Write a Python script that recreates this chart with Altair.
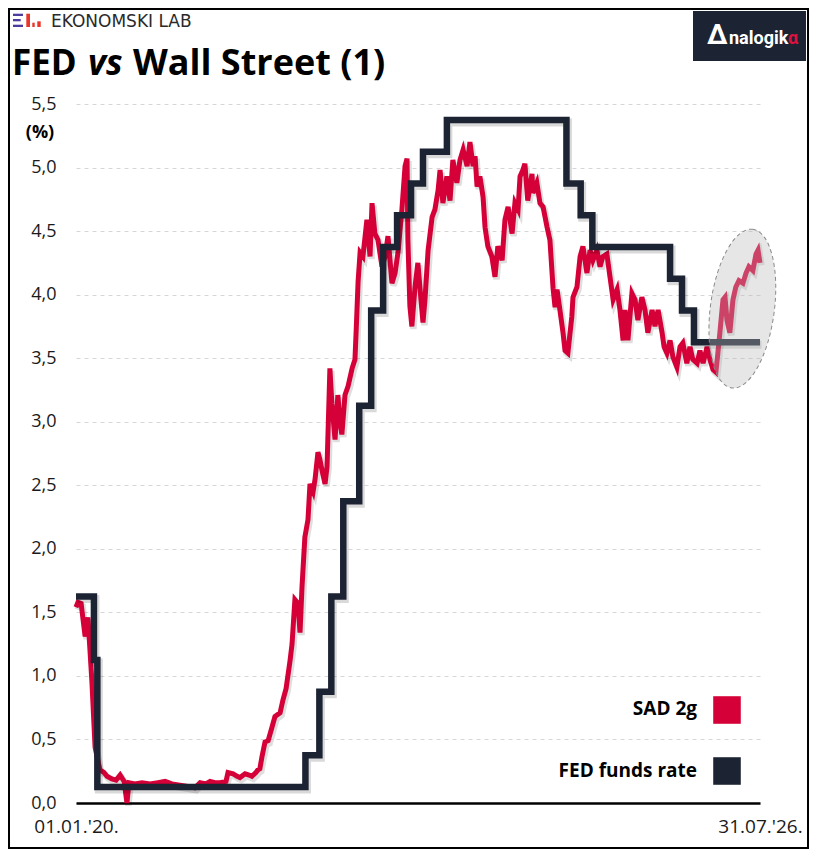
import pandas as pd
import altair as alt

START = alt.DateTime(year=2020, month=1, date=1)
END = alt.DateTime(year=2026, month=7, date=31)

series_names = ["SAD 2g", "FED funds rate"]
series_colors = ["#D50037", "#1C2333"]

# FED funds rate, midpoint of the target range (%), a new level from each date on
fed_dates = ["2020-01-01", "2020-03-04", "2020-03-16", "2022-03-17", "2022-05-05",
             "2022-06-16", "2022-07-28", "2022-09-22", "2022-11-03", "2022-12-15",
             "2023-02-02", "2023-03-23", "2023-05-04", "2023-07-27", "2024-09-19",
             "2024-11-08", "2024-12-19", "2025-09-18", "2025-10-30", "2025-12-11",
             "2026-07-31"]
fed_rate = [1.625, 1.125, 0.125, 0.375, 0.875, 1.625, 2.375, 3.125, 3.875, 4.375,
            4.625, 4.875, 5.125, 5.375, 4.875, 4.625, 4.375, 4.125, 3.875, 3.625,
            3.625]

# US 2y yield (%); days counted from 01.01.2020
sad_days = [0, 7, 18, 32, 42, 56, 67, 84, 98, 109, 126, 141, 155, 169, 179, 186,
            207, 232, 260, 288, 313, 337, 365, 393, 418, 436, 457, 471, 488, 506,
            527, 534, 552, 566, 576, 594, 608, 618, 632, 639, 646, 653, 664, 675,
            689, 699, 717, 727, 738, 752, 759, 769, 780, 787, 794, 804, 815, 822,
            833, 840, 850, 857, 864, 875, 882, 892, 899, 910, 920, 927, 934, 945,
            956, 970, 980, 984, 991, 998, 1008, 1022, 1033, 1040, 1050, 1061, 1075,
            1086, 1096, 1110, 1121, 1131, 1145, 1156, 1163, 1166, 1173, 1180, 1191,
            1201, 1212, 1219, 1226, 1237, 1251, 1261, 1272, 1279, 1289, 1303, 1314,
            1324, 1338, 1349, 1360, 1374, 1384, 1395, 1402, 1409, 1419, 1430, 1437,
            1447, 1461, 1472, 1482, 1497, 1507, 1518, 1532, 1542, 1553, 1560, 1570,
            1577, 1587, 1602, 1605, 1619, 1630, 1641, 1655, 1665, 1676, 1683, 1690,
            1700, 1711, 1718, 1728, 1742, 1746, 1760, 1771, 1781, 1795, 1806, 1816,
            1830, 1841, 1851, 1865, 1876, 1887, 1901, 1911, 1922, 1929, 1939, 1953,
            1964, 1974, 1988, 1999, 2009, 2024, 2034, 2045, 2059, 2066, 2076, 2087,
            2097, 2111, 2122, 2132, 2146, 2157, 2167, 2182, 2192, 2203, 2217, 2227,
            2238, 2248, 2255, 2262, 2273, 2280, 2287, 2297, 2308, 2318, 2329, 2343,
            2354, 2364, 2378, 2389, 2396, 2403]
sad_yield = [1.54, 1.58, 1.57, 1.31, 1.46, 0.95, 0.44, 0.26, 0.24, 0.21, 0.19, 0.18,
             0.22, 0.17, 0.00, 0.16, 0.15, 0.16, 0.15, 0.16, 0.17, 0.15, 0.14, 0.13,
             0.12, 0.16, 0.15, 0.17, 0.16, 0.16, 0.17, 0.24, 0.23, 0.21, 0.20, 0.23,
             0.22, 0.21, 0.24, 0.26, 0.27, 0.36, 0.48, 0.49, 0.60, 0.68, 0.71, 0.81,
             0.90, 1.12, 1.25, 1.60, 1.57, 1.34, 1.70, 2.09, 2.23, 2.51, 2.45, 2.55,
             2.76, 2.70, 2.62, 2.51, 2.65, 3.42, 3.14, 2.86, 3.21, 3.00, 2.90, 3.21,
             3.28, 3.42, 3.49, 3.70, 4.10, 4.33, 4.30, 4.59, 4.30, 4.72, 4.48, 4.43,
             4.22, 4.30, 4.46, 4.09, 4.17, 4.33, 4.67, 5.01, 5.07, 4.43, 3.91, 3.75,
             4.06, 4.25, 3.96, 3.78, 3.96, 4.35, 4.61, 4.67, 4.82, 4.98, 4.72, 4.93,
             4.74, 5.06, 4.88, 5.06, 5.14, 5.01, 5.20, 5.01, 5.09, 4.85, 4.93, 4.77,
             4.53, 4.38, 4.30, 4.14, 4.38, 4.27, 4.59, 4.69, 4.48, 4.72, 4.67, 4.93,
             4.98, 5.03, 4.74, 4.95, 4.80, 4.88, 4.72, 4.69, 4.53, 4.43, 4.05, 3.90,
             4.04, 3.88, 3.70, 3.56, 3.54, 3.83, 3.98, 4.06, 4.30, 4.38, 4.17, 4.35,
             4.27, 4.35, 4.22, 4.30, 4.32, 4.14, 3.96, 4.04, 3.88, 3.64, 3.88, 3.64,
             4.01, 3.96, 3.80, 3.98, 3.88, 3.70, 3.88, 3.75, 3.88, 3.70, 3.59, 3.54,
             3.64, 3.51, 3.43, 3.59, 3.62, 3.46, 3.59, 3.49, 3.46, 3.56, 3.46, 3.59,
             3.49, 3.41, 3.39, 3.54, 3.70, 3.96, 3.98, 3.80, 3.70, 3.96, 4.06, 4.11,
             4.09, 4.17, 4.22, 4.19, 4.32, 4.35, 4.25]

# grey highlight around the last months
highlight_days = [2341]
highlight_value = [3.89]

y_ticks = [0.0, 0.5, 1.0, 1.5, 2.0, 2.5, 3.0, 3.5, 4.0, 4.5, 5.0, 5.5]

start_ts = pd.Timestamp("2020-01-01")
sad = pd.DataFrame({"date": start_ts + pd.to_timedelta(sad_days, unit="D"),
                    "value": sad_yield, "series": series_names[0]})
fed = pd.DataFrame({"date": pd.to_datetime(fed_dates), "value": fed_rate,
                    "series": series_names[1]})
spot = pd.DataFrame({"date": start_ts + pd.to_timedelta(highlight_days, unit="D"),
                     "value": highlight_value})
one = pd.DataFrame({"k": [0]})

FONT = "Open Sans"

x_enc = alt.X("date:T", scale=alt.Scale(domain=[START, END]),
              axis=alt.Axis(values=[START, END], format="%d.%m.'%y.", title=None,
                            grid=False, ticks=False, domainColor="black",
                            domainWidth=2.5, labelFontSize=19, labelPadding=14,
                            labelOverlap=False, labelFlush=False,
                            labelColor="#1a1a1a", labelFont=FONT))
y_enc = alt.Y("value:Q", scale=alt.Scale(domain=[0, 5.5], nice=False, zero=False),
              axis=alt.Axis(values=y_ticks, title=None, domain=False, ticks=False,
                            grid=True, gridDash=[4, 4], gridColor="#d6d6d6",
                            labelExpr="replace(format(datum.value, '.1f'), '.', ',')",
                            labelFontSize=18, labelPadding=20,
                            labelColor="#1a1a1a", labelFont=FONT))
color = alt.Color("series:N", scale=alt.Scale(domain=series_names, range=series_colors),
                  legend=None)


def text(t, x, y, size, baseline="alphabetic", **kw):
    return alt.Chart(one).mark_text(text=t, fontSize=size, baseline=baseline, **kw).encode(
        x=alt.value(x), y=alt.value(y))


def box(x1, x2, y1, y2, c):
    return alt.Chart(one).mark_rect(color=c).encode(
        x=alt.value(x1), x2=alt.value(x2), y=alt.value(y1), y2=alt.value(y2))


# lines with a soft shadow
sad_shadow = alt.Chart(sad).mark_line(color="black", opacity=0.13, strokeWidth=6.5,
                                      xOffset=1.5, yOffset=2.5).encode(x=x_enc, y=y_enc)
fed_shadow = alt.Chart(fed).mark_line(color="black", opacity=0.15, strokeWidth=8,
                                      interpolate="step-after", xOffset=1.5,
                                      yOffset=2.5).encode(x=x_enc, y=y_enc)
sad_line = alt.Chart(sad).mark_line(strokeWidth=5).encode(x=x_enc, y=y_enc, color=color)
fed_line = alt.Chart(fed).mark_line(strokeWidth=6.5, interpolate="step-after").encode(
    x=x_enc, y=y_enc, color=color)

ellipse = alt.Chart(spot).mark_point(
    shape="M0,-1 A0.4,1 0 1,1 0,1 A0.4,1 0 1,1 0,-1 Z", size=25600, angle=7.5,
    filled=True, fill="#bbbbbb", fillOpacity=0.36, opacity=1, stroke="#8a8a8a",
    strokeWidth=1, strokeDash=[4, 3]).encode(x=x_enc, y=y_enc)

# legend (labels on the left of the squares)
legend = [
    alt.Chart(one).mark_square(size=760, color=series_colors[0], opacity=1).encode(
        x=alt.value(651), y=alt.value(606)),
    alt.Chart(one).mark_square(size=760, color=series_colors[1], opacity=1).encode(
        x=alt.value(651), y=alt.value(667)),
    text(series_names[0], 621, 611, 19, font=FONT, fontWeight="bold", align="right",
         color="black"),
    text(series_names[1], 621, 673, 19, font=FONT, fontWeight="bold", align="right",
         color="black"),
]

# title, unit and logos
header = [
    text("FED", -64, -29, 35, font=FONT, fontWeight="bold", align="left", color="black"),
    text("vs", 12, -29, 35, font=FONT, fontWeight="bold", fontStyle="italic",
         align="left", color="black"),
    text("Wall Street (1)", 57, -29, 36, font=FONT, fontWeight="bold", align="left",
         color="black"),
    text("(%)", -36, 29, 18, baseline="middle", font=FONT, fontWeight="bold",
         align="center", color="black"),
    box(-63, -53, -90.3, -88, "#4b3c9e"),
    box(-63, -55.3, -85, -82.7, "#4b3c9e"),
    box(-63, -53, -79.3, -77, "#4b3c9e"),
    box(-49.7, -46, -90.3, -77, "#e8362b"),
    box(-43.7, -41.3, -81.3, -77, "#e8362b"),
    box(-38.7, -35.3, -82.7, -77, "#e8362b"),
    text("EKONOMSKI LAB", -25, -77.5, 17, font="DejaVu Sans", align="left",
         color="#2a2a2a"),
    box(617, 730, -93, -43, "#1c2333"),
    text("Δ", 631, -60, 28, font="Roboto", fontWeight="bold", align="left",
         color="white"),
    text("nalogik", 653, -60, 18, font="Roboto", fontWeight="bold", align="left",
         color="white"),
    text("α", 712, -60, 18, font="Roboto", fontWeight="bold", align="left",
         color="#e0103f"),
]

frame = alt.Chart(one).mark_rect(fill="white", fillOpacity=0, stroke="black",
                                 strokeWidth=2).encode(
    x=alt.value(-67), x2=alt.value(732), y=alt.value(-95), y2=alt.value(744))

chart = alt.layer(
    sad_shadow, sad_line, fed_shadow, fed_line, ellipse, *legend, *header, frame
).properties(
    width=684, height=699,
    padding={"left": 68, "top": 96, "right": 49, "bottom": 46},
    autosize=alt.AutoSizeParams(type="none"),
    background="white",
).configure_view(strokeWidth=0)

chart.save("out.html", embed_options={"renderer": "svg", "actions": False})
